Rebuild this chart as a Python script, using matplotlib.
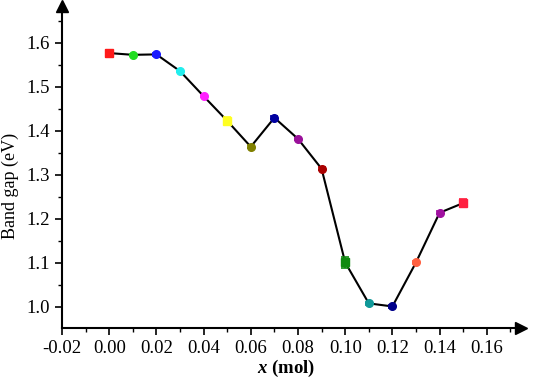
import matplotlib.pyplot as plt
from matplotlib.ticker import MultipleLocator

plt.rcParams['font.family'] = ['Liberation Serif', 'DejaVu Serif']
plt.rcParams['mathtext.fontset'] = 'custom'
plt.rcParams['mathtext.it'] = 'Liberation Serif:italic:bold'

x = [0.00, 0.01, 0.02, 0.03, 0.04, 0.05, 0.06, 0.07, 0.08, 0.09,
     0.10, 0.11, 0.12, 0.13, 0.14, 0.15]
gap = [1.577, 1.573, 1.574, 1.536, 1.479, 1.423, 1.364, 1.430, 1.382, 1.314,
       1.101, 1.008, 1.001, 1.101, 1.214, 1.236]
err = [0.008, 0.003, 0.003, 0.003, 0.003, 0.008, 0.003, 0.003, 0.003, 0.003,
       0.013, 0.004, 0.003, 0.003, 0.003, 0.010]
colors = ['#ff1a1a', '#22dd22', '#1a1aff', '#22eeee', '#ff22ff', '#ffff22',
          '#808000', '#0000a0', '#9a109a', '#aa0000', '#108a10', '#109999',
          '#00008a', '#ff6040', '#a010a0', '#ff2040']
markers = ['s', 'o', 'o', 'o', 'o', 's', 'o', 'o', 'o', 'o',
           's', 'o', 'o', 'o', 'o', 's']

fig = plt.figure(figsize=(5.33, 3.82), dpi=100)
ax = fig.add_axes([62/533, 54/382, (521-62)/533, (376-54)/382])

ax.plot(x, gap, color='black', lw=1.5, zorder=1)
for xi, yi, ei, c, m in zip(x, gap, err, colors, markers):
    ax.errorbar(xi, yi, yerr=ei, fmt=m, color=c, ms=5.5, capsize=3,
                elinewidth=1.2, capthick=1.2, zorder=2)

ax.set_xlim(-0.02, 0.1745)
ax.set_ylim(0.952, 1.684)
ax.xaxis.set_minor_locator(MultipleLocator(0.01))
ax.yaxis.set_minor_locator(MultipleLocator(0.05))
ax.set_xticks([-0.02, 0.00, 0.02, 0.04, 0.06, 0.08, 0.10, 0.12, 0.14, 0.16])
ax.set_xticklabels(['-0.02', '0.00', '0.02', '0.04', '0.06', '0.08',
                    '0.10', '0.12', '0.14', '0.16'])
ax.set_yticks([1.0, 1.1, 1.2, 1.3, 1.4, 1.5, 1.6])
ax.set_yticklabels(['1.0', '1.1', '1.2', '1.3', '1.4', '1.5', '1.6'])

ax.spines['top'].set_visible(False)
ax.spines['right'].set_visible(False)
ax.spines['left'].set_linewidth(1.5)
ax.spines['bottom'].set_linewidth(1.5)
ax.tick_params(which='major', length=5, width=1.2, labelsize=13.5)
ax.tick_params(which='minor', length=3, width=1.0)

ax.plot(1.0, 0, '>k', ms=9, transform=ax.transAxes, clip_on=False)
ax.plot(0, 1.0, '^k', ms=9, transform=ax.transAxes, clip_on=False)

ax.set_ylabel('Band gap (eV)', fontsize=13)
ax.yaxis.set_label_coords(-0.094, 0.44)
ax.set_xlabel(r'$x$ (mol)', fontsize=13.5, fontweight='bold')
ax.xaxis.set_label_coords(0.488, -0.093)

fig.savefig('out.png', dpi=100)
